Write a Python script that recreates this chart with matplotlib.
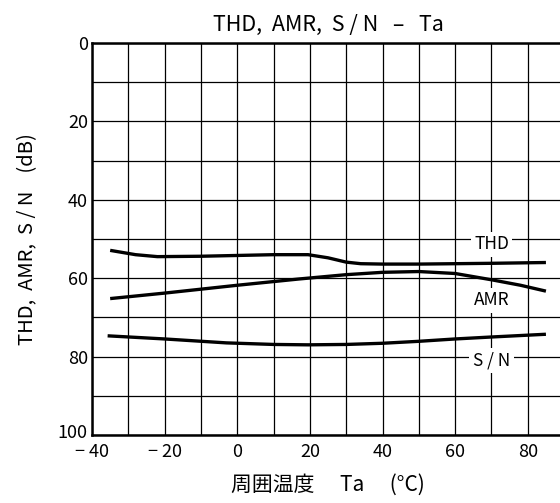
import numpy as np
import matplotlib.pyplot as plt
from matplotlib.transforms import ScaledTranslation

plt.rcParams['font.family'] = ['Noto Sans CJK JP', 'DejaVu Sans']

# curves (Ta in degC, level in dB)
thd_t = [-35, -28, -22, -10, 0, 10, 19.5, 25, 30, 34, 40, 50, 60, 70, 85]
thd_db = [52.9, 54.0, 54.5, 54.4, 54.2, 54.0, 54.0, 54.8, 55.9, 56.3, 56.4, 56.4, 56.3, 56.2, 56.0]

amr_t = [-35, -20, 0, 17, 30, 40, 50, 60, 70, 78, 85]
amr_db = [65.2, 63.8, 61.8, 60.2, 59.1, 58.5, 58.3, 58.8, 60.4, 61.8, 63.3]

sn_t = [-35.7, -20, -3, 10, 19.5, 30, 40, 50, 60, 70, 85]
sn_db = [74.7, 75.5, 76.5, 76.9, 77.0, 76.9, 76.6, 76.1, 75.5, 75.0, 74.3]

labels = ['THD', 'AMR', 'S / N']
label_t = [70, 70, 70]
label_db = [51.4, 65.6, 81.0]

x_ticks = [-40, -20, 0, 20, 40, 60, 80]
x_ticklabels = ['− 40', '− 20', '0', '20', '40', '60', '80']
y_ticks = [0, 20, 40, 60, 80, 100]

fig = plt.figure(figsize=(5.6, 5.03), dpi=100)
ax = fig.add_axes([0.1643, 0.1352, 0.843, 0.7793])

ax.set_xlim(-40, 90)
ax.set_ylim(100, 0)
ax.set_xticks(x_ticks)
ax.set_xticklabels(x_ticklabels)
ax.set_xticks(np.arange(-40, 91, 10), minor=True)
ax.set_yticks(y_ticks)
ax.set_yticks(np.arange(0, 101, 10), minor=True)
ax.grid(which='both', color='black', lw=0.9)
ax.tick_params(which='both', length=0, labelsize=13)
ax.tick_params(axis='x', pad=6)
ax.tick_params(axis='y', pad=3)
for s in ax.spines.values():
    s.set_linewidth(1.8)

# lift the "100" a little so it clears the "-40" below it
lbl = ax.get_yticklabels()[-1]
lbl.set_transform(lbl.get_transform() + ScaledTranslation(0, 3 / 72, fig.dpi_scale_trans))

for t, d in [(thd_t, thd_db), (amr_t, amr_db), (sn_t, sn_db)]:
    ax.plot(t, d, color='black', lw=2.4, solid_capstyle='butt', zorder=3)

for lab, t, d in zip(labels, label_t, label_db):
    ax.text(t, d, lab, ha='center', va='center', fontsize=12.5, zorder=4,
            bbox=dict(facecolor='white', edgecolor='none', pad=2.5))

ax.set_title('THD,  AMR,  S / N   –   Ta', fontsize=15.5, pad=9)
ax.set_ylabel('THD,  AMR,  S / N    (dB)', fontsize=14.5, labelpad=14)
ax.set_xlabel('周囲温度　 Ta　 (°C)', fontsize=15, labelpad=9)

fig.savefig('out.png', dpi=100)
